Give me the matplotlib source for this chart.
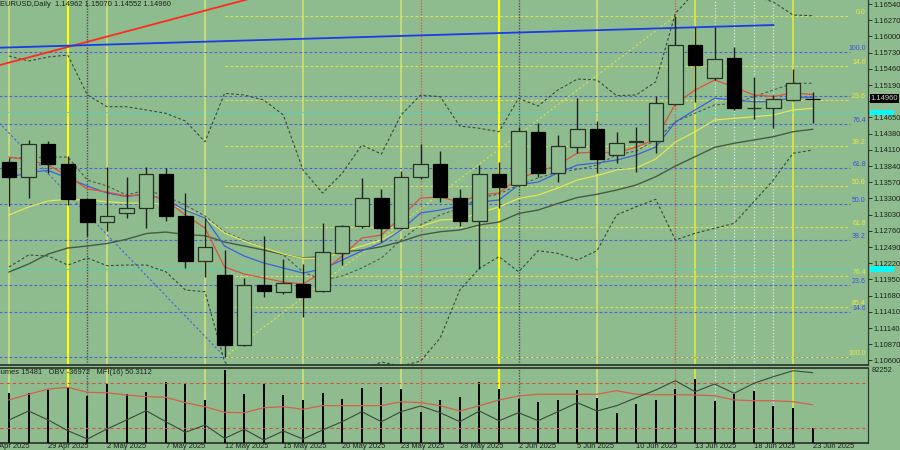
import matplotlib
matplotlib.use("Agg")
import matplotlib.pyplot as plt
from matplotlib.patches import Rectangle
from matplotlib.transforms import blended_transform_factory
import numpy as np

plt.rcParams['font.family'] = ['Liberation Sans', 'DejaVu Sans']

# ---------------- data ----------------
title_text = "EURUSD,Daily  1.14962 1.15070 1.14552 1.14960"
indicator_text = "Volumes 15481   OBV -36972   MFI(16) 50.3112"

dates = ["25 Apr 2025", "28 Apr 2025", "29 Apr 2025", "30 Apr 2025", "1 May 2025", "2 May 2025",
         "5 May 2025", "6 May 2025", "7 May 2025", "8 May 2025", "9 May 2025", "12 May 2025",
         "13 May 2025", "14 May 2025", "15 May 2025", "16 May 2025", "19 May 2025", "20 May 2025",
         "21 May 2025", "22 May 2025", "23 May 2025", "26 May 2025", "27 May 2025", "28 May 2025",
         "29 May 2025", "30 May 2025", "2 Jun 2025", "3 Jun 2025", "4 Jun 2025", "5 Jun 2025",
         "6 Jun 2025", "9 Jun 2025", "10 Jun 2025", "11 Jun 2025", "12 Jun 2025", "13 Jun 2025",
         "16 Jun 2025", "17 Jun 2025", "18 Jun 2025", "19 Jun 2025", "20 Jun 2025", "23 Jun 2025"]
prev_label = "24 Apr 2025"
labelled_dates = ["29 Apr 2025", "2 May 2025", "7 May 2025", "12 May 2025", "15 May 2025",
                  "20 May 2025", "23 May 2025", "28 May 2025", "2 Jun 2025", "5 Jun 2025",
                  "10 Jun 2025", "13 Jun 2025", "18 Jun 2025", "23 Jun 2025"]

open_ = [1.13912, 1.13652, 1.14202, 1.13874, 1.13285, 1.12912, 1.13052, 1.13145, 1.13702, 1.13007,
         1.12257, 1.12024, 1.10857, 1.11857, 1.11735, 1.11874, 1.11762, 1.12385, 1.12840, 1.13302,
         1.12812, 1.13662, 1.13869, 1.13312, 1.12929, 1.13707, 1.13524, 1.14412, 1.13729, 1.14162,
         1.14452, 1.14024, 1.14235, 1.14262, 1.14874, 1.15857, 1.15302, 1.15635, 1.14802, 1.14802,
         1.14940, 1.14962]
high = [1.13974, 1.14274, 1.14257, 1.14007, 1.13290, 1.13829, 1.13662, 1.13829, 1.13802, 1.13385,
        1.12969, 1.12440, 1.11969, 1.12674, 1.12285, 1.12207, 1.12895, 1.12857, 1.13635, 1.13457,
        1.13762, 1.14207, 1.14090, 1.13457, 1.13857, 1.13902, 1.14490, 1.14562, 1.14357, 1.14969,
        1.14590, 1.14402, 1.14485, 1.15007, 1.16340, 1.16162, 1.16162, 1.15829, 1.15319, 1.15024,
        1.15457, 1.15070]
low = [1.13174, 1.13302, 1.13719, 1.13190, 1.12674, 1.12762, 1.12969, 1.12812, 1.12929, 1.12135,
       1.11985, 1.10662, 1.10845, 1.11662, 1.11707, 1.11319, 1.11735, 1.12190, 1.12812, 1.12579,
       1.12802, 1.13624, 1.13245, 1.12840, 1.12119, 1.13135, 1.13507, 1.13662, 1.13579, 1.14062,
       1.13729, 1.13885, 1.13745, 1.14062, 1.14865, 1.14902, 1.15274, 1.14774, 1.14619, 1.14479,
       1.14932, 1.14552]
close = [1.13652, 1.14202, 1.13874, 1.13285, 1.12907, 1.13007, 1.13145, 1.13702, 1.13012, 1.12257,
         1.12495, 1.10857, 1.11857, 1.11757, 1.11885, 1.11652, 1.12402, 1.12840, 1.13302, 1.12802,
         1.13652, 1.13869, 1.13329, 1.12929, 1.13707, 1.13485, 1.14424, 1.13729, 1.14174, 1.14452,
         1.13957, 1.14219, 1.14252, 1.14885, 1.15857, 1.15524, 1.15624, 1.14802, 1.14810, 1.14952,
         1.15229, 1.14960]

ma_red = [1.13990, 1.13940, 1.13857, 1.13674, 1.13457, 1.13407, 1.13340, 1.13374, 1.13274, 1.13024,
          1.12807, 1.12157, 1.12040, 1.11974, 1.11907, 1.11874, 1.12074, 1.12340, 1.12640, 1.12690,
          1.12990, 1.13307, 1.13324, 1.13240, 1.13357, 1.13390, 1.13640, 1.13740, 1.13857, 1.14057,
          1.14074, 1.14057, 1.14157, 1.14290, 1.14874, 1.15107, 1.15274, 1.15157, 1.15024, 1.14999,
          1.15057, 1.15032]
ma_blue = [1.13640, 1.13740, 1.13765, 1.13640, 1.13507, 1.13390, 1.13332, 1.13374, 1.13274, 1.13107,
           1.12974, 1.12507, 1.12340, 1.12224, 1.12140, 1.12057, 1.12124, 1.12274, 1.12424, 1.12557,
           1.12774, 1.13057, 1.13107, 1.13174, 1.13240, 1.13274, 1.13524, 1.13574, 1.13724, 1.13857,
           1.13890, 1.13940, 1.14024, 1.14157, 1.14574, 1.14774, 1.14969, 1.14940, 1.14912, 1.14912,
           1.14985, 1.14985]
ma_yellow = [1.13024, 1.13157, 1.13257, 1.13285, 1.13274, 1.13245, 1.13224, 1.13219, 1.13199, 1.13124,
             1.12974, 1.12724, 1.12590, 1.12474, 1.12374, 1.12299, 1.12307, 1.12407, 1.12507, 1.12607,
             1.12774, 1.12832, 1.12940, 1.12957, 1.13057, 1.13157, 1.13299, 1.13357, 1.13474, 1.13607,
             1.13682, 1.13774, 1.13807, 1.13957, 1.14240, 1.14412, 1.14607, 1.14635, 1.14662, 1.14690,
             1.14774, 1.14802]
ma_slow = [1.12074, 1.12207, 1.12374, 1.12474, 1.12507, 1.12549, 1.12619, 1.12715, 1.12740, 1.12699,
           1.12679, 1.12574, 1.12507, 1.12440, 1.12365, 1.12307, 1.12332, 1.12407, 1.12440, 1.12495,
           1.12582, 1.12690, 1.12745, 1.12774, 1.12857, 1.12907, 1.13049, 1.13107, 1.13215, 1.13315,
           1.13369, 1.13440, 1.13524, 1.13662, 1.13840, 1.13995, 1.14152, 1.14219, 1.14274, 1.14329,
           1.14412, 1.14452]
band_upper = [1.15674, 1.15590, 1.15657, 1.15690, 1.15024, 1.14829, 1.14829, 1.14774, 1.14719, 1.14590,
              1.14245, 1.15052, 1.15024, 1.14940, 1.14690, 1.13774, 1.13390, 1.13719, 1.14190, 1.14040,
              1.14690, 1.15024, 1.14995, 1.14507, 1.14469, 1.14412, 1.14969, 1.14840, 1.15107, 1.15290,
              1.15274, 1.15012, 1.15024, 1.15245, 1.16385, 1.16740, 1.16807, 1.16774, 1.16674, 1.16574,
              1.16357, 1.16345]
band_mid = [1.13974, 1.13974, 1.13990, 1.13990, 1.13607, 1.13507, 1.13357, 1.13440, 1.13340, 1.13190,
            1.13007, 1.12740, 1.12607, 1.12474, 1.12357, 1.12074, 1.11940, 1.12007, 1.12140, 1.12307,
            1.12607, 1.12857, 1.13024, 1.13140, 1.13307, 1.13374, 1.13524, 1.13640, 1.13740, 1.13782,
            1.13857, 1.14024, 1.14090, 1.14274, 1.14579, 1.14719, 1.14857, 1.14885, 1.14995, 1.15107,
            1.15219, 1.15219]
band_lower = [1.12157, 1.12357, 1.12340, 1.12190, 1.12307, 1.12179, 1.12190, 1.12190, 1.12079, 1.11774,
              1.11745, 1.10579, 1.10274, 1.10107, 1.10024, 1.10024, 1.10107, 1.10274, 1.10440, 1.10574,
              1.10507, 1.10590, 1.10974, 1.11774, 1.12135, 1.12329, 1.12079, 1.12429, 1.12385, 1.12274,
              1.12429, 1.13024, 1.13162, 1.13285, 1.12607, 1.12719, 1.12802, 1.12885, 1.13245, 1.13607,
              1.14052, 1.14107]

volumes = [54616, 53958, 57577, 61196, 50997, 64157, 52861, 55054, 66679, 65583,
           46610, 79511, 53190, 64157, 52422, 46610, 54616, 47706, 59441, 61196,
           58673, 33778, 46281, 49571, 66350, 58344, 47377, 44087, 46610, 57577,
           49132, 32682, 41894, 46610, 58673, 69640, 45842, 53190, 56151, 40359,
           38165, 15481]
volume_max = 82252
obv = [-320772, -266772, -320772, -384972, -434772, -374772, -320772, -264972, -330972, -394572,
       -350772, -430572, -376572, -440772, -386772, -434772, -380772, -330972, -270972, -330972,
       -270972, -236772, -276972, -330972, -266772, -324972, -276972, -324972, -270972, -216972,
       -266772, -234972, -186972, -140772, -84972, -150972, -104772, -160572, -100572, -60972,
       -24972, -36972]
mfi = [56.7, 64.3, 71.3, 73.6, 66.9, 66.4, 63.3, 61.1, 60.3, 53.1,
       47.7, 40.3, 39.7, 46.4, 47.7, 44.3, 49.1, 49.1, 49.1, 49.1,
       54.4, 53.1, 49.1, 42.0, 49.1, 56.7, 62.0, 64.3, 64.3, 64.3,
       64.3, 69.1, 64.3, 63.7, 63.7, 63.3, 62.4, 56.7, 55.7, 55.7,
       54.4, 50.3]
mfi_levels = [20, 80]

price_ticks = [1.16540, 1.16270, 1.16000, 1.15730, 1.15460, 1.15190, 1.14920, 1.14650, 1.14380,
               1.14110, 1.13840, 1.13570, 1.13300, 1.13030, 1.12760, 1.12490, 1.12220, 1.11950,
               1.11680, 1.11410, 1.11140, 1.10870, 1.10600]
hidden_tick = 1.14920          # covered by the current-price box in the reference
last_price = 1.14960
cyan_levels = [1.14735, 1.12119]

fib_names = ["0.0", "14.6", "23.6", "38.2", "50.0", "61.8", "76.4", "85.4", "100.0"]
blue_fib_prices = [1.10662, 1.11404, 1.11862, 1.12604, 1.13204, 1.13803, 1.14545, 1.15003, 1.15745]
blue_fib_hidden = ["0.0", "85.4"]
yellow_fib_prices = [1.16340, 1.15511, 1.14940, 1.14171, 1.13501, 1.12831, 1.12002, 1.11491, 1.10662]
blue_fib_anchor_bars = [-4.0, 11.0]
blue_fib_anchor_prices = [1.15745, 1.10662]
yellow_fib_anchor_bars = [11.0, 34.0]
yellow_fib_anchor_prices = [1.10662, 1.16340]
fib_end_bar = 42.9

red_trend_bars = [-1.0, 14.0]
red_trend_prices = [1.15477, 1.16777]
blue_trend_bars = [-1.0, 39.0]
blue_trend_prices = [1.15807, 1.16190]

friday_dates = ["25 Apr 2025", "2 May 2025", "9 May 2025", "16 May 2025", "23 May 2025", "6 Jun 2025"]
month_end_dates = ["30 Apr 2025", "30 May 2025"]
week_dates = ["13 Jun 2025", "20 Jun 2025"]
month_start_dates = ["1 May 2025", "2 Jun 2025"]
red_mark_dates = ["26 May 2025", "12 Jun 2025"]
light_mark_dates = ["16 Jun 2025", "17 Jun 2025", "18 Jun 2025", "19 Jun 2025"]

# ---------------- styling ----------------
BG = "#8fbc8f"
DARK = "#1a221a"
FS = 5.4

fig = plt.figure(figsize=(9, 4.5), dpi=100)
fig.patch.set_facecolor(BG)

W = 868 / 900
ax = fig.add_axes([0, 85 / 450, W, 365 / 450])
ax_low = fig.add_axes([0, 7.5 / 450, W, 75 / 450])
for a in (ax, ax_low):
    a.set_facecolor(BG)
    a.set_xlim(-0.459, 43.827)
    for s in ("top", "left"):
        a.spines[s].set_visible(False)
    a.spines["right"].set_color("#2e3a2e")
    a.spines["right"].set_linewidth(0.9)
    a.spines["bottom"].set_color("#2e3a2e")
    a.spines["bottom"].set_linewidth(1.3)
ax_low.spines["top"].set_visible(True)
ax_low.spines["top"].set_color("#2e3a2e")
ax_low.spines["top"].set_linewidth(1.3)

ax.set_ylim(1.10524, 1.16607)
x = np.arange(len(dates))
idx = {d: i for i, d in enumerate(dates)}

# vertical lines in both panels
for a in (ax, ax_low):
    for d in friday_dates:
        a.axvline(idx[d], color="#cfdf78", lw=1.2, zorder=1)
    for d in month_end_dates:
        a.axvline(idx[d], color="#ffff00", lw=1.5, zorder=1)
    for d in week_dates:
        a.axvline(idx[d], color="#e4e83a", lw=1.2, zorder=1)
    for d in month_start_dates:
        a.axvline(idx[d], color="#46524a", lw=1.0, ls=(0, (1, 1)), zorder=1)
    for d in red_mark_dates:
        a.axvline(idx[d], color="#c8644e", lw=1.0, ls=(0, (1, 1)), zorder=1)
    for d in light_mark_dates:
        a.axvline(idx[d], color="#dfe9df", lw=0.9, ls=(0, (1, 1.5)), zorder=1)

# fibonacci levels
for name, p in zip(fib_names, blue_fib_prices):
    ax.hlines(p, blue_fib_anchor_bars[0], fib_end_bar, color="#4a5fd8", lw=0.8,
              linestyles=(0, (2.5, 2)), zorder=1.2)
for name, p in zip(fib_names, yellow_fib_prices):
    ax.hlines(p, yellow_fib_anchor_bars[0], fib_end_bar, color="#dbe24a", lw=0.8,
              linestyles=(0, (2.5, 2)), zorder=1.2)
ax.plot(blue_fib_anchor_bars, blue_fib_anchor_prices, color="#4a5fd8", lw=0.8,
        ls=(0, (2, 2)), zorder=1.3)
ax.plot(yellow_fib_anchor_bars, yellow_fib_anchor_prices, color="#dbe24a", lw=0.8,
        ls=(0, (2, 2)), zorder=1.3)

FIB_FS = 5.0
lab_tr = blended_transform_factory(ax.transAxes, ax.transData)
for name, p in zip(fib_names, blue_fib_prices):
    if name in blue_fib_hidden:
        continue
    ax.text(0.9975, p, name, transform=lab_tr, ha="right", va="bottom", fontsize=FIB_FS,
            color="#3b4fe0", zorder=5)
for name, p in zip(fib_names, yellow_fib_prices):
    ax.text(0.9975, p, name, transform=lab_tr, ha="right", va="bottom", fontsize=FIB_FS,
            color="#eaea3c", zorder=5)

# cyan levels
for p in cyan_levels:
    ax.axhline(p, color="#3ed8c8", lw=0.8, ls=(0, (3, 2)), zorder=1.2)

# trend lines
ax.plot(red_trend_bars, red_trend_prices, color="#ff2a20", lw=1.3, zorder=2.5)
ax.plot(blue_trend_bars, blue_trend_prices, color="#1a3ce6", lw=1.3, zorder=2.5)

# bands & moving averages
ax.plot(x, band_upper, color="#384838", lw=0.8, ls=(0, (2.5, 2)), zorder=2)
ax.plot(x, band_mid, color="#4c5c4c", lw=0.8, ls=(0, (2.5, 2)), zorder=2)
ax.plot(x, band_lower, color="#384838", lw=0.8, ls=(0, (2.5, 2)), zorder=2)
ax.plot(x, ma_slow, color="#465a46", lw=1.0, zorder=2.1)
ax.plot(x, ma_yellow, color="#e3e658", lw=0.9, zorder=2.1)
ax.plot(x, ma_blue, color="#3e60dc", lw=0.9, zorder=2.2)
ax.plot(x, ma_red, color="#e0503c", lw=0.9, zorder=2.3)

# candles
bw = 0.74
for i in range(len(dates)):
    o, h, l, c = open_[i], high[i], low[i], close[i]
    ax.vlines(i, l, h, color=DARK, lw=1.0, zorder=3)
    bottom = min(o, c)
    height = max(abs(c - o), 0.00003)
    if c >= o:
        rect = Rectangle((i - bw / 2, bottom), bw, height, facecolor=BG,
                         edgecolor="#263226", lw=0.9, zorder=3.2)
    else:
        rect = Rectangle((i - bw / 2, bottom), bw, height, facecolor="#000000",
                         edgecolor="#000000", lw=0.9, zorder=3.2)
    ax.add_patch(rect)

# price axis
ax.yaxis.tick_right()
ax.set_yticks(price_ticks)
ax.set_yticklabels(["" if p == hidden_tick else f"{p:.5f}" for p in price_ticks])
ax.tick_params(axis="y", labelsize=FS, length=3, width=0.6, pad=1.2, colors=DARK)
ax.set_xticks([])

box_tr = blended_transform_factory(ax.transAxes, ax.transData)
ax.text(1.003, last_price, f"{last_price:.5f}", transform=box_tr, ha="left", va="center",
        fontsize=FS, color="#d8d8d8", zorder=10, clip_on=False,
        bbox=dict(boxstyle="square,pad=0.12", facecolor="#000000", edgecolor="none"))
for p in cyan_levels:
    ax.text(1.003, p, f"{p:.5f}", transform=box_tr, ha="left", va="center",
            fontsize=4.6, color="#2ee6e6", zorder=10, clip_on=False,
            bbox=dict(boxstyle="square,pad=0.05", facecolor="#00ffff", edgecolor="none"))

ax.text(0.0, 0.997, title_text, transform=ax.transAxes, ha="left", va="top",
        fontsize=FS, color=DARK, zorder=10)

# ---------------- lower panel ----------------
ax_low.set_ylim(0, 100)
ax_low.yaxis.tick_right()
ax_low.set_yticks([0] + mfi_levels)
ax_low.set_yticklabels(["0"] + [str(v) for v in mfi_levels])
ax_low.tick_params(axis="y", labelsize=FS, length=3, width=0.6, pad=1.5, colors=DARK)
ax_low.set_xticks([])

ax_vol = ax_low.twinx()
ax_vol.set_ylim(0, volume_max)
ax_vol.set_xlim(ax_low.get_xlim())
ax_vol.vlines(x, 0, volumes, color="#000000", lw=1.4, zorder=3)
ax_vol.set_yticks([volume_max])
ax_vol.set_yticklabels([str(volume_max)], va="top")
ax_vol.tick_params(axis="y", labelsize=FS, length=0, pad=2.5, colors=DARK)
for s in ax_vol.spines.values():
    s.set_visible(False)

ax_ind = ax_low.twinx()
ax_ind.set_ylim(0, 100)
ax_ind.set_xlim(ax_low.get_xlim())
for lv in mfi_levels:
    ax_ind.axhline(lv, color="#d8503c", lw=0.8, ls=(0, (3, 2.5)))
ax_ind.plot(x, mfi, color="#d4604a", lw=0.9)
ax_ind.set_yticks([])
for s in ax_ind.spines.values():
    s.set_visible(False)

ax_obv = ax_low.twinx()
ax_obv.set_ylim(-455772, -5772)
ax_obv.set_xlim(ax_low.get_xlim())
ax_obv.plot(x, obv, color="#3a4a3a", lw=0.8)
ax_obv.set_yticks([])
for s in ax_obv.spines.values():
    s.set_visible(False)

ax_low.text(-0.011, 0.975, indicator_text, transform=ax_low.transAxes, ha="left", va="top",
            fontsize=FS, color=DARK, zorder=10)

# date labels
xl_tr = blended_transform_factory(ax_low.transData, ax_low.transAxes)
ax_low.text(-1, -0.06, prev_label, transform=xl_tr, ha="left", va="center",
            fontsize=FS, color=DARK, clip_on=False)
for d in labelled_dates:
    ax_low.text(idx[d], -0.06, d, transform=xl_tr, ha="left", va="center",
                fontsize=FS, color=DARK, clip_on=False)

fig.savefig("out.png", dpi=100, facecolor=BG)
